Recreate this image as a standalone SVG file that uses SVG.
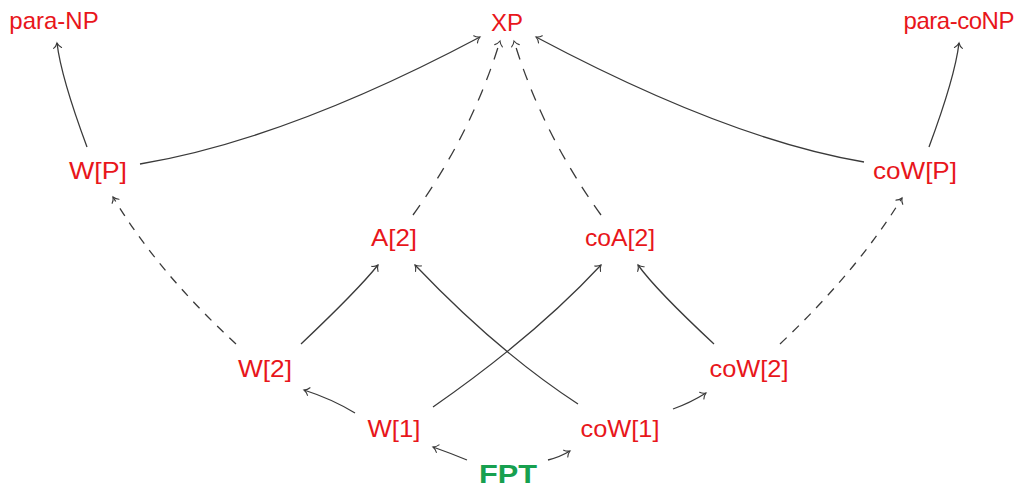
<svg xmlns="http://www.w3.org/2000/svg" width="1022" height="487" viewBox="0 0 1022 487">
  <style>
    .lbl { font-family: "Liberation Sans", Arial, sans-serif; font-size: 24px; fill: #e8161b; text-anchor: middle; }
    .fpt { font-family: "Liberation Sans", Arial, sans-serif; font-size: 25px; font-weight: bold; fill: #17a04f; text-anchor: middle; }
    .edge { fill: none; stroke: #3a3a3a; stroke-width: 1.3; marker-end: url(#arr); }
    .dash { stroke-dasharray: 9 8; }
    .dashlong { stroke-dasharray: 12 10; }
  </style>
  <defs>
    <marker id="arr" markerUnits="userSpaceOnUse" markerWidth="14" markerHeight="14" viewBox="-7 -7 14 14" refX="0" refY="0" orient="auto" overflow="visible">
      <path d="M -5 -4 C -3.5 -1.6 -1.2 -0.5 0 0 C -1.2 0.5 -3.5 1.6 -5 4" fill="none" stroke="#3a3a3a" stroke-width="1.1" stroke-linecap="round"/>
    </marker>
  </defs>

  <!-- connectors -->
  <g id="connectors">
    <path class="edge" d="M 87 147 Q 61 77 57 43"/>
    <path class="edge" d="M 929 147 Q 955 77 959 43"/>
    <path class="edge" d="M 140 164 Q 288 139 480 37"/>
    <path class="edge" d="M 864 162 Q 728 139 536 37"/>
    <path class="edge dashlong" d="M 413 215 Q 472 133 500 41"/>
    <path class="edge dashlong" d="M 601 215 Q 542 133 514 41"/>
    <path class="edge dash" d="M 236 344 Q 157 271 113 197"/>
    <path class="edge dash" d="M 780 344 Q 857 271 902 198"/>
    <path class="edge" d="M 301 344 Q 358 290 378 265"/>
    <path class="edge" d="M 714 344 Q 656 290 638 265"/>
    <path class="edge" d="M 433 407 Q 535 336 601 265"/>
    <path class="edge" d="M 578 404 Q 498 352 415 265"/>
    <path class="edge" d="M 355 413 Q 332 399 304 390"/>
    <path class="edge" d="M 673 409 Q 690 403 706 393"/>
    <path class="edge" d="M 467 460 Q 450 453 433 447"/>
    <path class="edge" d="M 548 460 Q 560 457 570 451"/>
  </g>

  <!-- nodes -->
  <g id="paraNP"><text class="lbl" x="54" y="29">para-NP</text></g>
  <g id="XP"><text class="lbl" x="507" y="31">XP</text></g>
  <g id="paraCoNP"><text class="lbl" x="959" y="29" textLength="111" lengthAdjust="spacing">para-coNP</text></g>
  <g id="WP"><text class="lbl" x="98" y="179" textLength="58" lengthAdjust="spacingAndGlyphs">W[P]</text></g>
  <g id="coWP"><text class="lbl" x="915" y="179" textLength="84" lengthAdjust="spacingAndGlyphs">coW[P]</text></g>
  <g id="A2"><text class="lbl" x="394" y="246" textLength="46" lengthAdjust="spacingAndGlyphs">A[2]</text></g>
  <g id="coA2"><text class="lbl" x="620" y="246" textLength="70" lengthAdjust="spacingAndGlyphs">coA[2]</text></g>
  <g id="W2"><text class="lbl" x="265" y="377" textLength="54" lengthAdjust="spacingAndGlyphs">W[2]</text></g>
  <g id="coW2"><text class="lbl" x="749" y="377" textLength="79" lengthAdjust="spacingAndGlyphs">coW[2]</text></g>
  <g id="W1"><text class="lbl" x="394" y="437" textLength="53" lengthAdjust="spacingAndGlyphs">W[1]</text></g>
  <g id="coW1"><text class="lbl" x="620" y="437" textLength="79" lengthAdjust="spacingAndGlyphs">coW[1]</text></g>
  <g id="FPT"><text class="fpt" x="508" y="483" textLength="58" lengthAdjust="spacingAndGlyphs">FPT</text></g>
</svg>
